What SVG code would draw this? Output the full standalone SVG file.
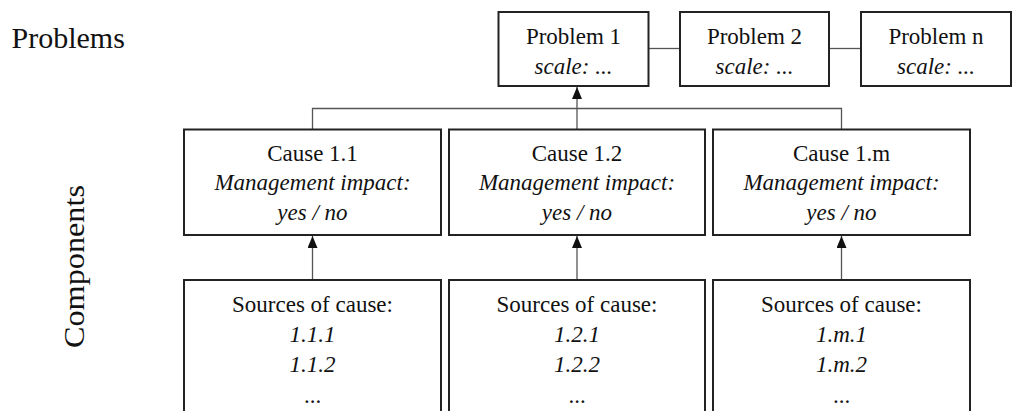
<svg xmlns="http://www.w3.org/2000/svg" width="1021" height="411" viewBox="0 0 1021 411">
<style>
.box{fill:#fff;stroke:#222;stroke-width:2}
.t{font-family:'Liberation Serif','Tinos','Times New Roman','DejaVu Serif',serif;font-size:23px;fill:#111;text-anchor:middle}
.i{font-style:italic}
.lbl{font-family:'Liberation Serif','Tinos','Times New Roman','DejaVu Serif',serif;font-size:30px;fill:#111}
.c{fill:none;stroke:#555;stroke-width:1.3}
</style>
<defs>
<marker id="ah" markerUnits="userSpaceOnUse" markerWidth="12" markerHeight="10" refX="12" refY="5" orient="auto" viewBox="0 0 12 10">
<path d="M0,0 L12,5 L0,10 Z" fill="#111"/>
</marker>
</defs>
<text class="lbl" x="11.5" y="48" font-family="Liberation Serif, serif">Problems</text>
<text class="lbl" x="83.5" y="266.5" text-anchor="middle" transform="rotate(-90 83.5 266.5)" textLength="163" lengthAdjust="spacingAndGlyphs">Components</text>
<g id="connectors">
<line class="c" x1="648" y1="48.5" x2="680" y2="48.5"/>
<line class="c" x1="829" y1="48.5" x2="861" y2="48.5"/>
<polyline class="c" points="312.5,129 312.5,108.5 841.5,108.5 841.5,129"/>
<line class="c" x1="577" y1="129" x2="577" y2="87" marker-end="url(#ah)"/>
<line class="c" x1="312.5" y1="280" x2="312.5" y2="236" marker-end="url(#ah)"/>
<line class="c" x1="577" y1="280" x2="577" y2="236" marker-end="url(#ah)"/>
<line class="c" x1="841.5" y1="280" x2="841.5" y2="236" marker-end="url(#ah)"/>
</g>
<g id="problem1">
<rect class="box" x="498.5" y="12" width="150" height="74"/>
<text class="t" x="573.5" y="43.5">Problem 1</text>
<text class="t i" x="573.5" y="74">scale: ...</text>
</g>
<g id="problem2">
<rect class="box" x="680" y="12" width="149" height="74"/>
<text class="t" x="754.5" y="43.5">Problem 2</text>
<text class="t i" x="754.5" y="74">scale: ...</text>
</g>
<g id="problemn">
<rect class="box" x="861" y="12" width="150" height="74"/>
<text class="t" x="936" y="43.5">Problem n</text>
<text class="t i" x="936" y="74">scale: ...</text>
</g>
<g id="cause11">
<rect class="box" x="184" y="129.5" width="257" height="105.5"/>
<text class="t" x="312.5" y="160.5">Cause 1.1</text>
<text class="t i" x="312.5" y="190">Management impact:</text>
<text class="t i" x="312.5" y="219.5">yes / no</text>
</g>
<g id="cause12">
<rect class="box" x="449" y="129.5" width="256" height="105.5"/>
<text class="t" x="577" y="160.5">Cause 1.2</text>
<text class="t i" x="577" y="190">Management impact:</text>
<text class="t i" x="577" y="219.5">yes / no</text>
</g>
<g id="cause1m">
<rect class="box" x="713" y="129.5" width="257" height="105.5"/>
<text class="t" x="841.5" y="160.5">Cause 1.m</text>
<text class="t i" x="841.5" y="190">Management impact:</text>
<text class="t i" x="841.5" y="219.5">yes / no</text>
</g>
<g id="sources11">
<rect class="box" x="184" y="280" width="257" height="150"/>
<text class="t" x="312.5" y="311.5">Sources of cause:</text>
<text class="t i" x="312.5" y="341.5">1.1.1</text>
<text class="t i" x="312.5" y="371.5">1.1.2</text>
<text class="t" x="312.5" y="403">...</text>
</g>
<g id="sources12">
<rect class="box" x="449" y="280" width="256" height="150"/>
<text class="t" x="577" y="311.5">Sources of cause:</text>
<text class="t i" x="577" y="341.5">1.2.1</text>
<text class="t i" x="577" y="371.5">1.2.2</text>
<text class="t" x="577" y="403">...</text>
</g>
<g id="sources1m">
<rect class="box" x="713" y="280" width="257" height="150"/>
<text class="t" x="841.5" y="311.5">Sources of cause:</text>
<text class="t i" x="841.5" y="341.5">1.m.1</text>
<text class="t i" x="841.5" y="371.5">1.m.2</text>
<text class="t" x="841.5" y="403">...</text>
</g>
</svg>
